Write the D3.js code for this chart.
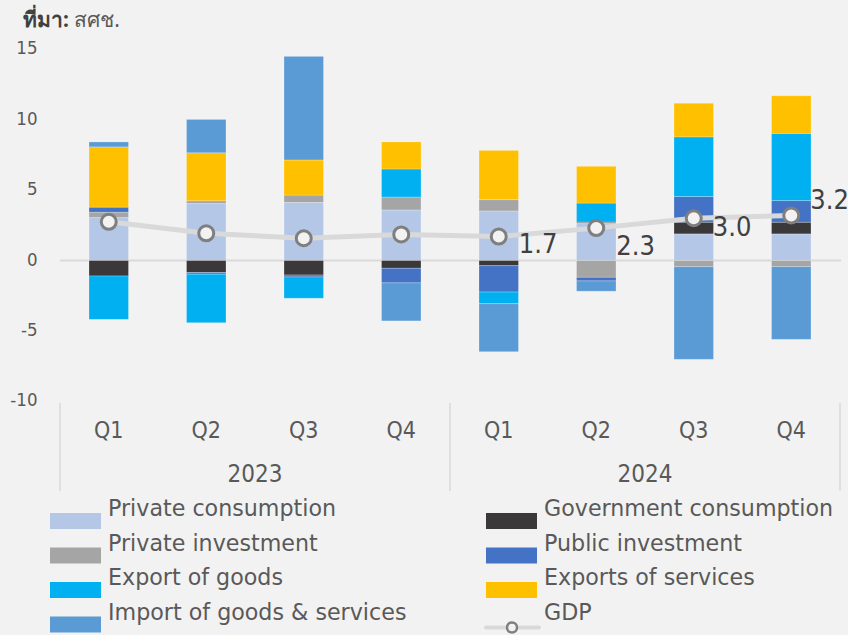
<!DOCTYPE html>
<html>
<head>
<meta charset="utf-8">
<script src="https://cdn.jsdelivr.net/npm/d3@7"></script>
<style>
  html, body { margin: 0; padding: 0; background: #f2f2f2; }
  svg { display: block; }
</style>
</head>
<body>
<svg id="chart" width="848" height="635"></svg>
<script>
// ---------- DATA ----------
const quarters = ["Q1", "Q2", "Q3", "Q4", "Q1", "Q2", "Q3", "Q4"];
const years = ["2023", "2024"];
const yTicks = [15, 10, 5, 0, -5, -10];

const seriesNames = [
  "Private consumption", "Government consumption",
  "Private investment", "Public investment",
  "Export of goods", "Exports of services",
  "Import of goods & services"
];
const privateConsumption = [3.05, 4.05, 4.13, 3.59, 3.52, 2.68, 1.89, 1.89];
const govConsumption     = [-1.10, -0.85, -1.03, -0.55, -0.37, 0.05, 0.83, 0.83];
const privateInvestment  = [0.38, 0.19, 0.52, 0.92, 0.80, -1.19, -0.44, -0.44];
const publicInvestment   = [0.36, -0.12, -0.14, -1.04, -1.87, -0.26, 1.82, 1.53];
const exportGoods        = [-3.08, -3.45, -1.51, 1.99, -0.83, 1.35, 4.24, 4.78];
const exportServices     = [4.28, 3.41, 2.49, 1.92, 3.50, 2.61, 2.39, 2.67];
const importsGS          = [0.35, 2.37, 7.36, -2.70, -3.41, -0.73, -6.58, -5.16];
const gdp                = [2.75, 1.93, 1.58, 1.85, 1.70, 2.30, 3.00, 3.20];
const gdpLabels          = ["", "", "", "", "1.7", "2.3", "3.0", "3.2"];

// ---------- STYLE ----------
const colors = ["#b4c7e7", "#3a3838", "#a5a5a5", "#4472c4", "#00b0f0", "#ffc000", "#5b9bd5"];
const labelOffsets = [[20, 16], [20, 16], [20, 16], [20, 16], [20, 16], [20, 27], [19, 18], [19, -6]];
const textColor = "#595959";
const axisFont = "'DejaVu Sans Condensed', 'DejaVu Sans', sans-serif";
const legendFont = "'DejaVu Sans', sans-serif";

const seriesValues = [privateConsumption, govConsumption, privateInvestment,
  publicInvestment, exportGoods, exportServices, importsGS];

const table = quarters.map((q, i) => {
  const row = { idx: i };
  seriesNames.forEach((s, k) => row[s] = seriesValues[k][i]);
  return row;
});

const svg = d3.select("#chart");

const x = d3.scaleBand().domain(d3.range(quarters.length))
  .range([60, 840]).paddingInner(0.595).paddingOuter(0.2975);
const y = d3.scaleLinear().domain([-10, 15]).range([401.3, 49.3]);

// title
const title = svg.append("text").attr("x", 23).attr("y", 27)
  .attr("font-family", "'Noto Sans', 'DejaVu Sans', sans-serif")
  .attr("font-size", 21).attr("fill", textColor);
title.append("tspan").attr("font-weight", "bold").attr("fill", "#404040").text("ที่มา:");
title.append("tspan").text(" สศช.");

// y axis labels
const yAxis = svg.append("g").attr("transform", "translate(37.5,0)")
  .call(d3.axisLeft(y).tickValues(yTicks).tickSize(0).tickPadding(0).tickFormat(d => String(d)));
yAxis.select(".domain").remove();
yAxis.selectAll("text").attr("dy", null).attr("y", 4.5)
  .attr("font-family", axisFont).attr("font-size", 18.5).attr("fill", textColor);

// zero line
svg.append("line").attr("x1", 60).attr("x2", 841).attr("y1", y(0)).attr("y2", y(0))
  .attr("stroke", "#d9d9d9").attr("stroke-width", 2);

// stacked bars
const stack = d3.stack().keys(seriesNames).offset(d3.stackOffsetDiverging);
const stacked = stack(table);
svg.append("g").selectAll("g").data(stacked).join("g")
  .attr("fill", (d, k) => colors[k])
  .selectAll("rect").data(d => d).join("rect")
  .attr("x", d => x(d.data.idx))
  .attr("width", x.bandwidth())
  .attr("y", d => y(Math.max(d[0], d[1])))
  .attr("height", d => Math.abs(y(d[0]) - y(d[1])))
  .attr("stroke", "#ffffff").attr("stroke-opacity", 0.3).attr("stroke-width", 0.8);

// GDP line
const cx = i => x(i) + x.bandwidth() / 2;
svg.append("path").datum(gdp)
  .attr("fill", "none").attr("stroke", "#d9d9d9").attr("stroke-width", 5)
  .attr("stroke-linecap", "round")
  .attr("d", d3.line().x((d, i) => cx(i)).y(d => y(d)));
svg.append("g").selectAll("circle").data(gdp).join("circle")
  .attr("cx", (d, i) => cx(i)).attr("cy", d => y(d)).attr("r", 7.5)
  .attr("fill", "#f2f2f2").attr("stroke", "#7f7f7f").attr("stroke-width", 3);
svg.append("g").selectAll("text").data(gdp).join("text")
  .attr("x", (d, i) => cx(i) + labelOffsets[i][0])
  .attr("y", (d, i) => y(d) + labelOffsets[i][1])
  .attr("font-family", axisFont).attr("font-size", 27).attr("fill", "#404040")
  .text((d, i) => gdpLabels[i]);

// x axis (quarters)
const xAxis = svg.append("g").attr("transform", "translate(0,438)")
  .call(d3.axisBottom(x).tickSize(0).tickPadding(0).tickFormat(i => quarters[i]));
xAxis.select(".domain").remove();
xAxis.selectAll("text").attr("dy", null).attr("y", 0)
  .attr("font-family", axisFont).attr("font-size", 23).attr("fill", textColor);

// year groups
const perYear = quarters.length / years.length;
const sepX = d3.range(years.length + 1).map(j => j === years.length ? x.range()[1] : x(j * perYear) - x.step() * x.paddingOuter());
svg.append("g").selectAll("line").data(sepX).join("line")
  .attr("x1", d => d).attr("x2", d => d).attr("y1", 403).attr("y2", 491)
  .attr("stroke", "#d9d9d9").attr("stroke-width", 1.5);
svg.append("g").selectAll("text").data(years).join("text")
  .attr("x", (d, j) => (sepX[j] + sepX[j + 1]) / 2).attr("y", 482)
  .attr("text-anchor", "middle")
  .attr("font-family", axisFont).attr("font-size", 24).attr("fill", textColor)
  .text(d => d);

// legend
const legendItems = seriesNames.map((s, k) => ({ name: s, color: colors[k], type: "rect" }))
  .concat([{ name: "GDP", type: "line" }]);
const lg = svg.append("g").selectAll("g").data(legendItems).join("g")
  .attr("transform", (d, k) => `translate(${k % 2 === 0 ? 50 : 486},${513 + Math.floor(k / 2) * 34.5})`);
lg.filter(d => d.type === "rect").append("rect")
  .attr("width", 51).attr("height", 16).attr("fill", d => d.color);
const gl = lg.filter(d => d.type === "line");
gl.append("line").attr("x1", 0).attr("x2", 53).attr("y1", 11).attr("y2", 11)
  .attr("stroke", "#d9d9d9").attr("stroke-width", 4).attr("stroke-linecap", "round");
gl.append("circle").attr("cx", 26).attr("cy", 11).attr("r", 5)
  .attr("fill", "#f2f2f2").attr("stroke", "#7f7f7f").attr("stroke-width", 2.5);
lg.append("text").attr("x", 58).attr("y", 3)
  .attr("font-family", legendFont).attr("font-size", 22.2).attr("fill", textColor)
  .text(d => d.name);
</script>
</body>
</html>
